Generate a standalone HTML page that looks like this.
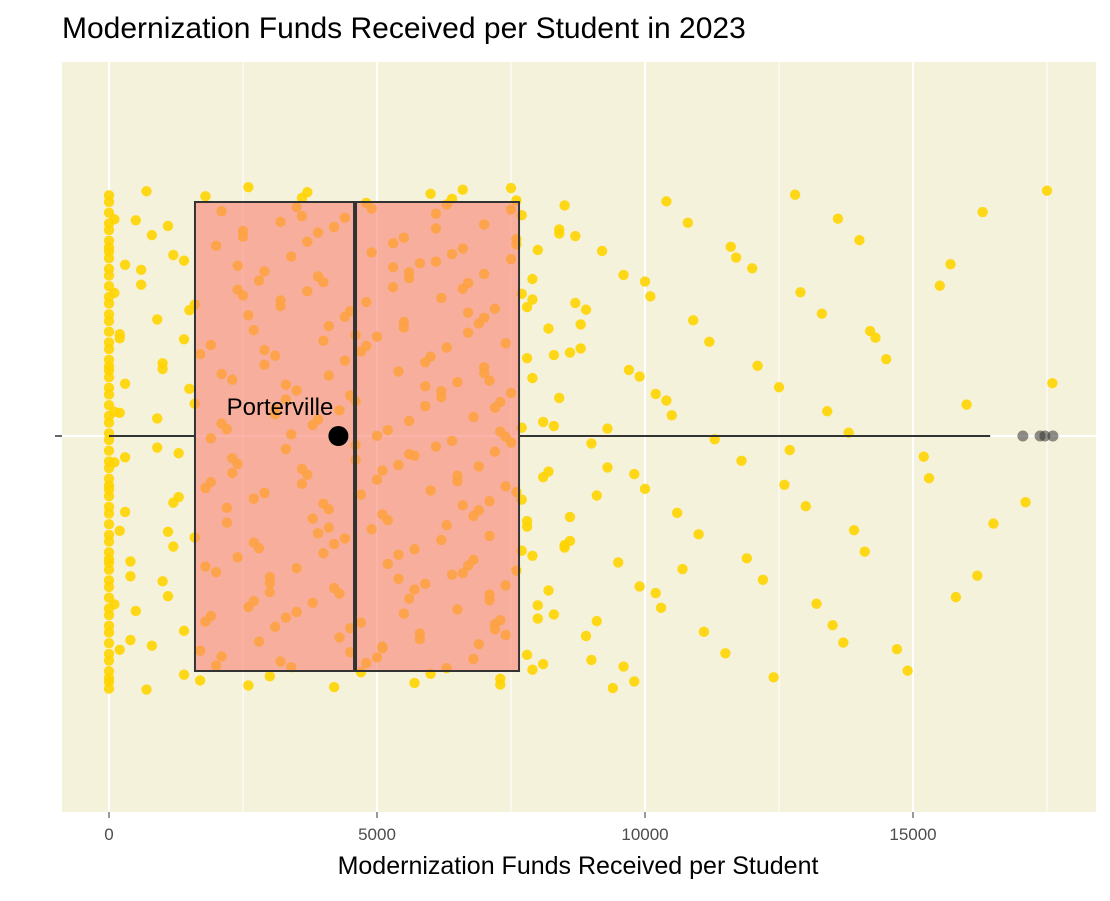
<!DOCTYPE html>
<html><head><meta charset="utf-8"><style>
body{margin:0;background:#fff;}
svg text{font-family:"Liberation Sans",sans-serif;}
</style></head><body>
<svg id="chart" width="1110" height="896" xmlns="http://www.w3.org/2000/svg">
<text x="62" y="38" font-size="30" fill="#000">Modernization Funds Received per Student in 2023</text>
<rect x="62" y="62" width="1034" height="750" fill="#F5F2DC"/>
<g id="grid"></g>
<g id="points"></g>
<g id="box"></g>
<g id="axis"></g>
<text x="578" y="874" font-size="25" text-anchor="middle" fill="#000">Modernization Funds Received per Student</text>
</svg>
<script>
// values in hundreds of dollars
const zeros=[0,0,0,0,0,0,0,0,0,0,0,0,0,0,0,0,0,0,0,0,0,0,0,0,0,0,0,0,0,0,0,0,0,0,0,0,0,0,0,0,0,0,0,0,0,0,0,0,0,0,0,0,0,0,0,0,0,0,0,0,1,1,1,1,2,2,2,3,3,4];
const dense=[3,7,12,15,18,22,25,28,31,34,37,40,43,46,49,52,55,58,61,64,67,70,73,76,79,
5,9,11,16,19,21,24,29,30,35,36,41,44,45,50,53,54,59,60,65,66,71,72,77,78,
2,8,13,14,20,23,26,27,32,33,38,39,42,47,48,51,56,57,62,63,68,69,74,75,80,
4,10,17,18,25,26,31,32,39,40,45,46,53,54,59,60,66,67,72,73,76,77,78,79,81,
6,11,16,21,22,27,28,33,34,35,41,42,47,48,55,56,61,62,63,68,69,70,74,75,76,
3,9,14,19,20,24,29,30,36,37,38,43,44,49,50,51,57,58,64,65,66,71,72,73,77,
8,12,17,20,23,28,30,33,35,38,41,43,46,49,52,54,57,60,62,65,68,70,71,74,78,
1,6,10,15,18,22,26,31,34,37,40,44,47,50,53,56,59,61,63,67,69,72,75,76,79,
7,13,16,19,21,25,27,29,32,36,39,42,45,48,51,55,58,64,66,68,70,73,74,77,80,
2,5,11,14,17,23,24,30,33,37,40,45,47,52,55,57,60,63,65,67,71,73,75,78,82,
4,9,12,18,21,26,29,32,35,39,42,44,48,50,54,56,59,62,64,69,70,72,74,76,79,
10,14,19,24,27,31,36,41,46,51,56,61,66,71,75,77,78,80,83,84,85,86,81,82,79];
const sparse=[82,84,85,86,88,89,90,92,95,97,98,100,101,103,105,108,110,112,115,118,120,122,125,128,130,133,135,138,140,141,145,149,153,155,158,160,163,165,142,137,127,117,107,99,94,91,87,83,81,84,86,88,90,93,96,99,102,104,106,109,111,113,116,119,121,124,126,129,132,134,136,139,143,147,152,157,162,176,175,171,89,91,93,87,85,83,96,98,100,102,104];
const outliers=[170.5,173.7,174.6,176.1];
const stats={q1:16.04,med:45.9,q3:76.5,lo:0,hi:164.4};
const xTicks=[0,5000,10000,15000];
const x=v=>109+v*0.0536;          // v in dollars
const NS="http://www.w3.org/2000/svg";
function mk(tag,attrs,parent){const e=document.createElementNS(NS,tag);for(const k in attrs)e.setAttribute(k,attrs[k]);parent.appendChild(e);return e;}
const grid=document.getElementById('grid'),pts=document.getElementById('points'),box=document.getElementById('box'),axis=document.getElementById('axis');
[2500,7500,12500,17500].forEach(t=>{const l=mk('line',{x1:x(t),x2:x(t),y1:62,y2:812,stroke:'#fff','stroke-width':1},grid);

});
xTicks.forEach(t=>{const l=mk('line',{x1:x(t),x2:x(t),y1:62,y2:812,stroke:'#fff','stroke-width':2},grid);


const tl=mk('line',{x1:x(t),x2:x(t),y1:812,y2:818,stroke:'#333','stroke-width':1},axis);


const tx=mk('text',{x:x(t),y:840,'font-size':17,'text-anchor':'middle',fill:'#4d4d4d'},axis);tx.textContent=t;

});
const hg=mk('line',{x1:62,x2:1096,y1:436,y2:436,stroke:'#fff','stroke-width':2},grid);


const yt=mk('line',{x1:55,x2:62,y1:436,y2:436,stroke:'#333','stroke-width':1.5},axis);


const all=zeros.concat(dense,sparse);
all.forEach((v,i)=>{const f=(i*0.6180339887+0.13)%1;
const c=mk('circle',{cx:x(v*100),cy:186+f*504,r:5.2,fill:'#FFD400',opacity:0.9},pts);

});
const Y0=202,Y1=671,YC=436;
const w1=mk('line',{x1:x(stats.lo*100),x2:x(stats.q1*100),y1:YC,y2:YC,stroke:'#333','stroke-width':2},box);


const w2=mk('line',{x1:x(stats.q3*100),x2:x(stats.hi*100),y1:YC,y2:YC,stroke:'#333','stroke-width':2},box);


const r=mk('rect',{x:x(stats.q1*100),y:Y0,width:x(stats.q3*100)-x(stats.q1*100),height:Y1-Y0,fill:'rgba(250,128,114,0.6)',stroke:'#333','stroke-width':2},box);


const md=mk('line',{x1:x(stats.med*100),x2:x(stats.med*100),y1:Y0,y2:Y1,stroke:'#333','stroke-width':4},box);


outliers.forEach(v=>{const c=mk('circle',{cx:x(v*100),cy:YC,r:5.5,fill:'#333','fill-opacity':0.55},box);

});
const pv=mk('circle',{cx:x(4280),cy:YC,r:10,fill:'#000'},box);


const pl=mk('text',{x:280,y:415,'font-size':24,'text-anchor':'middle',fill:'#000'},box);pl.textContent='Porterville';


</script>
</body></html>
